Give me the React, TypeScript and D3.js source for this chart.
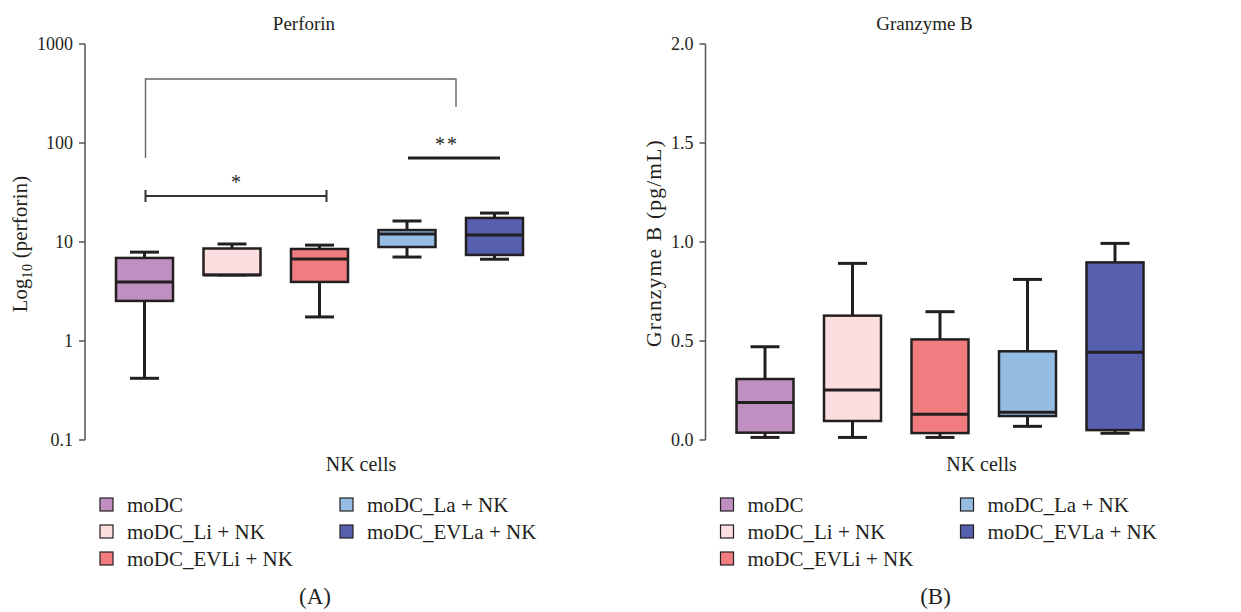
import React from "react";
import * as d3 from "d3";

const categories = ["moDC", "moDC_Li + NK", "moDC_EVLi + NK", "moDC_La + NK", "moDC_EVLa + NK"];
const colors = ["#c08fc1", "#fcdee1", "#f27d81", "#95bde4", "#5660ae"];

// [min, q1, median, q3, max]
const perforinStats: number[][] = [
  [0.42, 2.54, 3.95, 6.9, 7.9],
  [4.65, 4.65, 4.65, 8.6, 9.55],
  [1.75, 3.95, 6.73, 8.5, 9.3],
  [7.05, 8.9, 12.05, 13.2, 16.3],
  [6.7, 7.4, 11.8, 17.5, 19.6],
];
const granzymeStats: number[][] = [
  [0.013, 0.037, 0.19, 0.308, 0.471],
  [0.013, 0.096, 0.253, 0.628, 0.892],
  [0.013, 0.035, 0.13, 0.508, 0.648],
  [0.069, 0.121, 0.14, 0.448, 0.811],
  [0.034, 0.05, 0.443, 0.897, 0.993],
];
const perforinTicks = [0.1, 1, 10, 100, 1000];
const perforinTickLabels = ["0.1", "1", "10", "100", "1000"];
const granzymeTicks = [0, 0.5, 1.0, 1.5, 2.0];

// significance annotations for perforin (values in data units)
const bigBracket = { from: 0, to: 3, top: 443, leftEnd: 70.5, rightEnd: 231 };
const starBracket = { from: 0, to: 2, level: 29.2, label: "*" };
const dblStarBar = { from: 3, to: 4, level: 70.5, label: "**" };

const FONT = "'Liberation Serif', 'Times New Roman', serif";
const TOP = 44;
const BOTTOM = 440;
const BOX_W = 57;
const STROKE = "#231f20";

type PanelProps = {
  ox: number;
  title: string;
  yLabel: React.ReactNode;
  yLabelSpacing: number;
  yScale: any;
  ticks: number[];
  tickLabels: string[];
  stats: number[][];
  letter: string;
  children?: (x: any, y: any) => React.ReactNode;
};

function Panel({ ox, title, yLabel, yLabelSpacing, yScale, ticks, tickLabels, stats, letter, children }: PanelProps) {
  const axisX = ox + 85;
  const x = d3.scalePoint<string>().domain(categories).range([ox + 144.5, ox + 494.5]);
  const y = yScale;
  return (
    <g>
      <text x={ox + 304} y={30} textAnchor="middle" fontSize={19} fontFamily={FONT} fill="#231f20">
        {title}
      </text>
      <line x1={axisX} x2={axisX} y1={TOP} y2={BOTTOM} stroke="#555" strokeWidth={1.5} />
      {ticks.map((t, i) => (
        <g key={i}>
          <line x1={axisX - 6} x2={axisX} y1={y(t)} y2={y(t)} stroke="#555" strokeWidth={1.5} />
          <text x={axisX - 12} y={y(t)} dy="0.35em" textAnchor="end" fontSize={18} fontFamily={FONT} fill="#231f20">
            {tickLabels[i]}
          </text>
        </g>
      ))}
      <text
        transform={`translate(${ox + (letter === "A" ? 27 : 40)},${letter === "A" ? 244 : 243}) rotate(-90)`}
        textAnchor="middle"
        fontSize={letter === "A" ? 20.5 : 21.5}
        letterSpacing={yLabelSpacing}
        fontFamily={FONT}
        fill="#231f20"
      >
        {yLabel}
      </text>
      {stats.map((s, i) => {
        const cx = x(categories[i])!;
        const [mn, q1, md, q3, mx] = s;
        return (
          <g key={i}>
            <line x1={cx} x2={cx} y1={y(mx)} y2={y(q3)} stroke={STROKE} strokeWidth={3} />
            <line x1={cx} x2={cx} y1={y(q1)} y2={y(mn)} stroke={STROKE} strokeWidth={3} />
            <line x1={cx - 14.5} x2={cx + 14.5} y1={y(mx)} y2={y(mx)} stroke={STROKE} strokeWidth={3} />
            <line x1={cx - 14.5} x2={cx + 14.5} y1={y(mn)} y2={y(mn)} stroke={STROKE} strokeWidth={3} />
            <rect
              x={cx - BOX_W / 2}
              y={y(q3)}
              width={BOX_W}
              height={Math.max(0, y(q1) - y(q3))}
              fill={colors[i]}
              stroke={STROKE}
              strokeWidth={2.5}
            />
            <line x1={cx - BOX_W / 2} x2={cx + BOX_W / 2} y1={y(md)} y2={y(md)} stroke={STROKE} strokeWidth={3} />
          </g>
        );
      })}
      {children ? children(x, y) : null}
      <text x={ox + 361} y={471} textAnchor="middle" fontSize={20} fontFamily={FONT} fill="#231f20">
        NK cells
      </text>
      {categories.map((c, i) => {
        const col = i < 3 ? 0 : 1;
        const row = i < 3 ? i : i - 3;
        const sx = ox + (col === 0 ? 100 : 340);
        const cy = 505 + row * 27;
        return (
          <g key={c}>
            <rect x={sx} y={cy - 7} width={13} height={13} fill={colors[i]} stroke={STROKE} strokeWidth={1.2} />
            <text x={sx + 27} y={cy} dy="0.35em" fontSize={21} fontFamily={FONT} fill="#231f20">
              {c}
            </text>
          </g>
        );
      })}
      <text x={ox + 315} y={604} textAnchor="middle" fontSize={23} fontFamily={FONT} fill="#231f20">
        ({letter})
      </text>
    </g>
  );
}

export default function App() {
  const yLog = d3.scaleLog().domain([0.1, 1000]).range([BOTTOM, TOP]);
  const yLin = d3.scaleLinear().domain([0, 2]).range([BOTTOM, TOP]);
  return (
    <svg width={1241} height={612} style={{ display: "block", position: "absolute", left: 0, top: 0, background: "#fff" }}>
      <rect width={1241} height={612} fill="#fff" />
      <Panel
        ox={0}
        title="Perforin"
        yLabel={
          <>
            Log<tspan fontSize={14} dy="5">10</tspan>
            <tspan dy="-5"> (perforin)</tspan>
          </>
        }
        yLabelSpacing={0.3}
        yScale={yLog}
        ticks={perforinTicks}
        tickLabels={perforinTickLabels}
        stats={perforinStats}
        letter="A"
      >
        {(x, y) => {
          const bx1 = x(categories[bigBracket.from]) + 1;
          const bx2 = x(categories[bigBracket.to]) + 49;
          const sx1 = x(categories[starBracket.from]) + 1;
          const sx2 = x(categories[starBracket.to]) + 7;
          const dx1 = x(categories[dblStarBar.from]) + 1;
          const dx2 = x(categories[dblStarBar.to]) + 5.5;
          return (
            <g>
              <path
                d={`M${bx1},${y(bigBracket.leftEnd)}V${y(bigBracket.top)}H${bx2}V${y(bigBracket.rightEnd)}`}
                fill="none"
                stroke="#666"
                strokeWidth={1.4}
              />
              <line x1={sx1} x2={sx2} y1={y(starBracket.level)} y2={y(starBracket.level)} stroke="#333" strokeWidth={2} />
              <line x1={sx1} x2={sx1} y1={y(starBracket.level) - 6} y2={y(starBracket.level) + 6} stroke="#333" strokeWidth={2} />
              <line x1={sx2} x2={sx2} y1={y(starBracket.level) - 6} y2={y(starBracket.level) + 6} stroke="#333" strokeWidth={2} />
              <text x={(sx1 + sx2) / 2} y={y(starBracket.level) - 7} textAnchor="middle" fontSize={20} fontFamily={FONT} fill="#231f20">
                {starBracket.label}
              </text>
              <line x1={dx1} x2={dx2} y1={y(dblStarBar.level)} y2={y(dblStarBar.level)} stroke="#231f20" strokeWidth={3} />
              <text x={(dx1 + dx2) / 2 - 7} y={y(dblStarBar.level) - 7} textAnchor="middle" fontSize={20} fontFamily={FONT} fill="#231f20" letterSpacing={2}>
                {dblStarBar.label}
              </text>
            </g>
          );
        }}
      </Panel>
      <Panel
        ox={620.5}
        title="Granzyme B"
        yLabel="Granzyme B (pg/mL)"
        yLabelSpacing={1.2}
        yScale={yLin}
        ticks={granzymeTicks}
        tickLabels={granzymeTicks.map((t) => d3.format(".1f")(t))}
        stats={granzymeStats}
        letter="B"
      />
    </svg>
  );
}
